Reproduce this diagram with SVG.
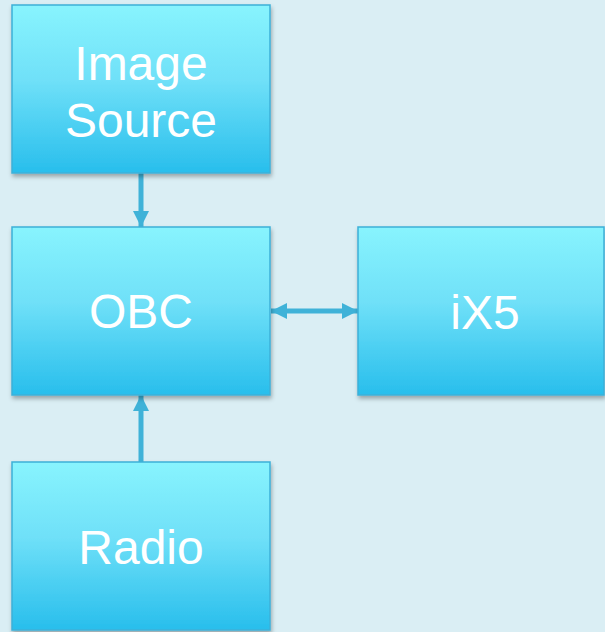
<svg xmlns="http://www.w3.org/2000/svg" width="605" height="632" viewBox="0 0 605 632">
  <defs>
    <linearGradient id="boxFill" x1="0" y1="0" x2="0" y2="1">
      <stop offset="0" stop-color="#88F4FE"/>
      <stop offset="0.45" stop-color="#6FE0F8"/>
      <stop offset="1" stop-color="#28BEEC"/>
    </linearGradient>
    <filter id="shadow" x="-10%" y="-10%" width="125%" height="130%">
      <feDropShadow dx="1" dy="3" stdDeviation="2" flood-color="#000" flood-opacity="0.3"/>
    </filter>
    <marker id="head" viewBox="0 0 16 16" refX="16" refY="8" markerWidth="16" markerHeight="16" markerUnits="userSpaceOnUse" orient="auto-start-reverse">
      <path d="M0,0 L16,8 L0,16 Z" fill="#3FB2D8"/>
    </marker>
  </defs>
  <style>
    .box { fill: url(#boxFill); stroke: #3CB0D8; stroke-width: 1.5; filter: url(#shadow); }
    .label { font-family: "Liberation Sans", Arial, sans-serif; font-size: 48px; fill: #FFFFFF; text-anchor: middle; }
    .wire { stroke: #3FB2D8; stroke-width: 5; fill: none; }
  </style>

  <rect width="605" height="632" fill="#DAEEF4"/>

  <g id="connectors">
    <line class="wire" x1="141" y1="173" x2="141" y2="227" marker-end="url(#head)"/>
    <line class="wire" x1="271" y1="311" x2="358" y2="311" marker-start="url(#head)" marker-end="url(#head)"/>
    <line class="wire" x1="141" y1="462" x2="141" y2="395" marker-end="url(#head)"/>
  </g>

  <g id="image-source">
    <rect class="box" x="12" y="5" width="258" height="168"/>
    <text class="label" x="141" y="80">Image</text>
    <text class="label" x="141" y="137">Source</text>
  </g>

  <g id="obc">
    <rect class="box" x="12" y="227" width="258" height="168"/>
    <text class="label" x="141" y="328">OBC</text>
  </g>

  <g id="ix5">
    <rect class="box" x="358" y="227" width="246" height="168"/>
    <text class="label" x="485" y="329">iX5</text>
  </g>

  <g id="radio">
    <rect class="box" x="12" y="462" width="258" height="168"/>
    <text class="label" x="141" y="564">Radio</text>
  </g>
</svg>
